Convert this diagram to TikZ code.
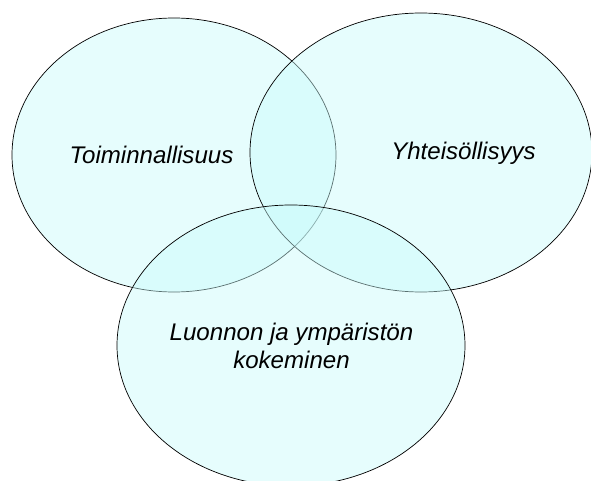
\documentclass[tikz,border=0pt]{standalone}
\usepackage{fontspec}
\setmainfont{Liberation Sans}
\usepackage{xcolor}
\usetikzlibrary{shapes.geometric}

\definecolor{venncyan}{RGB}{200,250,250}

\begin{document}
\begin{tikzpicture}[
  venn/.style={ellipse,draw=black,thin,fill=venncyan,fill opacity=0.45,inner sep=0pt},
  vtext/.style={font=\fontsize{13.7}{16}\selectfont\itshape,align=center}]
\useasboundingbox (0,0) rectangle (11.82,9.6);
\path (0,0)
(3.48,6.5) node(toim) [venn,minimum width=6.48cm,minimum height=5.48cm] {}
(8.42,6.55) node(yht) [venn,minimum width=6.84cm,minimum height=5.58cm] {}
(5.82,2.69) node(luo) [venn,minimum width=6.96cm,minimum height=5.62cm] {};

\node(ttoim) [vtext] at (3.03,6.5) {Toiminnallisuus};
\node(tyht) [vtext] at (9.27,6.54) {Yhteisöllisyys};
\node(tluo) [vtext] at (5.83,2.68) {Luonnon ja ympäristön\\kokeminen};
\end{tikzpicture}
\end{document}
